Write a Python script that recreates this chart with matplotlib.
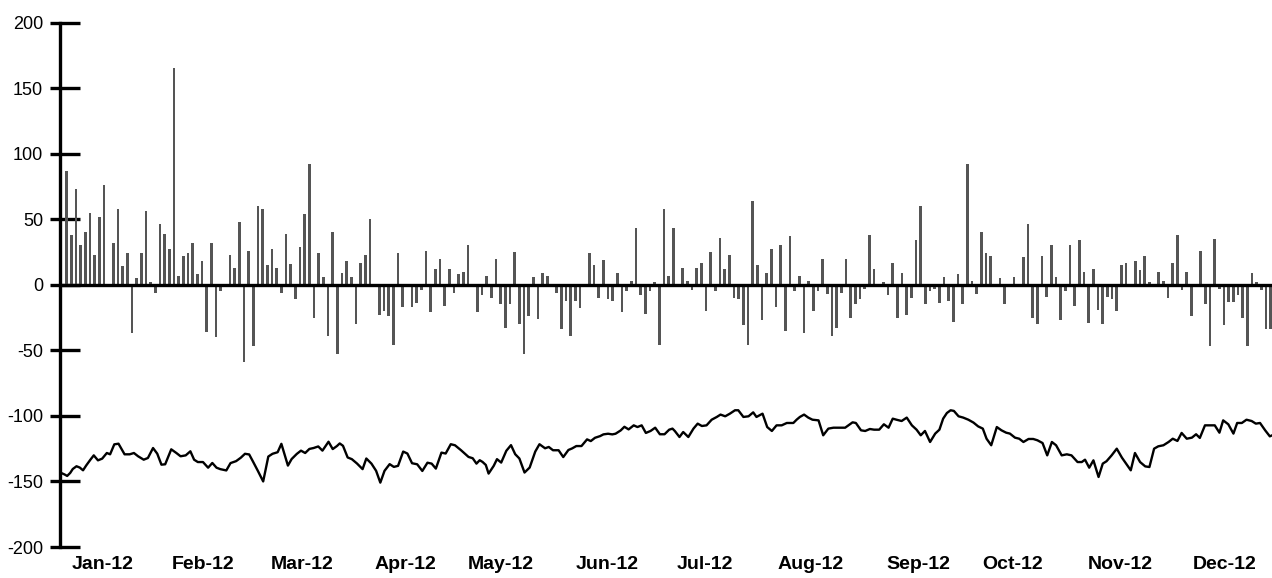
import matplotlib
matplotlib.use('Agg')
import matplotlib.pyplot as plt
from matplotlib.ticker import FixedLocator

plt.rcParams['font.family'] = ['Liberation Sans', 'DejaVu Sans']
plt.rcParams['axes.unicode_minus'] = False

# Daily bar values (one per trading day, index 0..258)
bar_values = [
    87, 38, 73, 30, 40, 55, 23, 52, 76, 0,
    32, 58, 14, 24, -37, 5, 24, 56, 2, -6,
    46, 39, 27, 165, 7, 22, 24, 32, 8, 18,
    -36, 32, -40, -5, 0, 23, 13, 48, -59, 26,
    -47, 60, 58, 15, 27, 13, -6, 39, 16, -11,
    29, 54, 92, -25, 24, 6, -39, 40, -53, 9,
    18, 6, -30, 17, 23, 50, 0, -23, -20, -24,
    -46, 24, -17, 0, -17, -14, -4, 26, -21, 12,
    20, -16, 12, -6, 8, 10, 30, 0, -21, -8,
    7, -10, 20, -15, -33, -15, 25, -30, -53, -24,
    6, -26, 9, 7, 0, -6, -34, -12, -39, -12,
    -18, -2, 24, 15, -10, 19, -11, -12, 9, -21,
    -5, 3, 43, -8, -22, -5, 2, -46, 58, 7,
    43, 0, 13, 3, -4, 13, 17, -20, 25, -5,
    36, 12, 23, -10, -11, -31, -46, 64, 15, -27,
    9, 27, -17, 30, -35, 37, -5, 7, -37, 3,
    -20, -5, 20, -7, -39, -33, -6, 20, -25, -15,
    -11, -3, 38, 12, 0, 2, -8, 17, -25, 9,
    -23, -10, 34, 60, -15, -5, -3, -14, 6, -12,
    -28, 8, -15, 92, 3, -7, 40, 24, 22, 0,
    5, -15, 0, 6, -2, 21, 46, -25, -30, 22,
    -9, 30, 6, -27, -5, 30, -16, 34, 10, -29,
    12, -19, -30, -9, -11, -20, 15, 17, 0, 18,
    11, 22, 2, 0, 10, 3, -10, 17, 38, -4,
    10, -24, 0, 26, -15, -47, 35, -3, -31, -13,
    -13, -8, -25, -47, 9, 2, -4, -34, -34,
]

# Line series: position (trading-day index) and value
line_x = [
    -1.2, -0.5, 0.1, 0.75, 1.3, 2.1, 2.8, 3.5, 4.2, 5.1,
    5.8, 6.7, 7.6, 8.6, 9.3, 10.2, 11.1, 12.4, 13.5, 14.4,
    15.3, 16.5, 17.4, 18.5, 19.4, 20.3, 21.1, 22.4, 23.5, 24.4,
    25.5, 26.5, 27.3, 28.1, 29.2, 30.3, 31.2, 32.1, 32.9, 34.2,
    35.1, 36.3, 37.3, 38.2, 39.1, 39.9, 41.0, 42.1, 43.2, 44.1,
    45.2, 46.0, 47.4, 48.2, 49.3, 50.2, 51.1, 52.0, 52.9, 53.9,
    54.8, 56.1, 57.0, 57.9, 58.5, 59.2, 60.2, 61.1, 62.2, 63.4,
    64.2, 65.3, 66.3, 67.2, 68.1, 69.2, 70.1, 71.0, 72.1, 73.0,
    74.0, 75.1, 76.2, 77.3, 78.2, 79.1, 80.3, 81.2, 82.3, 83.2,
    84.5, 86.1, 87.0, 87.8, 88.5, 89.1, 89.8, 90.4, 91.5, 92.2,
    93.1, 94.2, 95.2, 96.1, 97.0, 98.1, 99.2, 100.4, 101.3, 102.5,
    103.3, 104.2, 105.4, 106.4, 107.5, 108.3, 109.2, 110.3, 111.5, 112.3,
    113.2, 114.3, 115.0, 116.0, 116.9, 117.6, 118.7, 119.5, 120.4, 121.5,
    122.3, 123.2, 124.1, 125.1, 126.1, 127.1, 128.1, 129.1, 129.8, 130.3,
    131.3, 132.1, 133.2, 134.3, 135.2, 136.1, 137.1, 138.2, 139.3, 140.1,
    141.1, 142.1, 143.2, 143.9, 145.0, 146.1, 147.1, 147.8, 149.1, 150.1,
    151.1, 152.1, 153.2, 154.3, 155.7, 156.4, 157.1, 158.0, 158.9, 159.8,
    161.1, 162.1, 163.2, 164.3, 165.3, 166.8, 167.5, 168.4, 169.1, 170.2,
    171.1, 172.1, 173.0, 174.1, 175.1, 176.1, 177.0, 177.8, 178.9, 180.0,
    181.1, 182.1, 183.0, 183.9, 185.0, 186.1, 187.0, 187.8, 188.6, 189.4,
    190.1, 191.1, 192.1, 193.2, 194.3, 195.3, 196.3, 197.1, 198.1, 199.3,
    200.3, 201.3, 202.1, 203.2, 204.1, 205.0, 206.1, 207.1, 208.0, 209.1,
    210.1, 211.1, 212.0, 213.2, 214.3, 215.3, 216.6, 217.5, 218.2, 219.1,
    220.0, 221.1, 222.0, 222.8, 223.9, 225.0, 226.1, 227.0, 228.0, 228.9,
    230.0, 231.1, 232.0, 233.0, 233.9, 235.0, 236.1, 237.0, 238.0, 238.9,
    240.0, 241.1, 242.0, 242.8, 243.9, 245.0, 246.0, 247.0, 247.8, 248.9,
    250.0, 250.8, 251.8, 252.8, 253.9, 254.8, 255.7, 256.8, 257.8, 258.3,
]
line_y = [
    -143.5, -144.6, -145.8, -143.5, -140.5, -138.4, -139.4, -141.5, -137.7, -133.3,
    -130.1, -133.9, -132.6, -128.3, -129.3, -121.7, -121.2, -129.3, -129.3, -128.3,
    -130.8, -133.4, -132.1, -124.5, -128.8, -137.2, -136.9, -125.5, -128.3, -130.8,
    -130.1, -127.0, -133.4, -135.2, -135.2, -139.5, -135.9, -139.5, -140.6, -141.6,
    -136.0, -134.5, -131.9, -128.9, -129.4, -134.7, -142.2, -150.0, -131.0, -128.9,
    -127.7, -121.3, -137.9, -132.9, -129.0, -126.5, -128.3, -125.2, -124.5, -123.3,
    -126.5, -119.7, -125.3, -123.0, -121.0, -122.8, -131.7, -133.0, -136.3, -140.6,
    -132.5, -136.4, -141.9, -150.9, -141.9, -136.8, -138.9, -138.1, -127.2, -128.7,
    -136.1, -136.9, -142.0, -135.7, -136.4, -140.2, -128.0, -128.7, -121.6, -122.4,
    -126.2, -131.3, -132.3, -136.4, -133.8, -135.1, -137.4, -144.0, -138.1, -133.0,
    -135.6, -126.6, -122.3, -129.2, -132.5, -143.2, -139.4, -127.2, -121.6, -124.7,
    -123.7, -126.2, -126.2, -131.4, -126.0, -124.8, -123.0, -123.0, -117.9, -119.2,
    -116.7, -115.4, -114.1, -113.6, -114.1, -113.6, -111.1, -108.3, -110.3, -107.2,
    -108.5, -107.2, -113.0, -111.5, -109.0, -114.0, -114.0, -110.5, -109.7, -111.5,
    -116.1, -112.3, -116.1, -109.7, -105.9, -107.7, -107.2, -102.9, -100.8, -99.0,
    -100.3, -98.3, -95.7, -95.7, -100.8, -100.3, -97.3, -100.8, -98.3, -108.5,
    -111.5, -107.2, -107.2, -105.4, -105.4, -102.9, -100.8, -99.0, -101.3, -102.9,
    -103.4, -114.8, -109.7, -109.0, -109.0, -109.0, -107.2, -104.9, -105.4, -111.0,
    -111.5, -110.0, -110.5, -110.5, -106.4, -109.0, -102.1, -102.9, -103.9, -101.3,
    -107.2, -110.5, -114.8, -111.5, -119.9, -113.5, -110.5, -102.1, -97.8, -95.7,
    -96.2, -100.3, -101.3, -102.9, -105.1, -108.0, -109.7, -117.4, -122.4, -108.5,
    -111.0, -112.8, -113.5, -116.6, -117.4, -119.9, -117.6, -117.6, -118.6, -120.7,
    -130.1, -119.9, -122.4, -130.1, -129.3, -130.1, -135.2, -135.2, -133.4, -139.5,
    -133.9, -146.6, -136.4, -134.6, -130.1, -125.0, -131.8, -136.4, -141.5, -128.3,
    -135.2, -138.5, -139.0, -125.0, -123.2, -122.4, -119.9, -117.4, -119.1, -113.0,
    -117.4, -116.6, -114.0, -116.8, -107.2, -107.2, -107.2, -112.8, -103.4, -106.4,
    -113.5, -105.4, -105.4, -102.9, -103.9, -105.9, -105.4, -111.0, -115.6, -114.8,
]

month_labels = ['Jan-12', 'Feb-12', 'Mar-12', 'Apr-12', 'May-12', 'Jun-12',
                'Jul-12', 'Aug-12', 'Sep-12', 'Oct-12', 'Nov-12', 'Dec-12']
month_pos = [7.8, 29.2, 50.4, 72.5, 93.1, 115.8, 136.8, 159.5, 182.4, 202.6, 225.7, 248.2]
y_ticks = [-200, -150, -100, -50, 0, 50, 100, 150, 200]

fig = plt.figure(figsize=(12.72, 5.78), dpi=100)
ax = fig.add_axes([60 / 1272, 31 / 578, 1211.7 / 1272, 524.4 / 578])

ax.bar(range(len(bar_values)), bar_values, width=0.6, color='#555555', zorder=2)
ax.axhline(0, color='black', lw=2.4, zorder=3)
ax.plot(line_x, line_y, color='black', lw=1.7, zorder=4)

ax.set_xlim(-1.436, 258.2)
ax.set_ylim(-200, 200)
for s in ['top', 'right', 'bottom']:
    ax.spines[s].set_visible(False)
ax.spines['left'].set_linewidth(2.4)

ax.set_yticks(y_ticks)
ax.yaxis.set_minor_locator(FixedLocator(y_ticks))
ax.yaxis.remove_overlapping_locs = False
ax.tick_params(axis='y', which='major', direction='out', length=7.2, width=2.4,
               pad=5, labelsize=13)
ax.tick_params(axis='y', which='minor', direction='in', length=14.4, width=2.4)

ax.set_xticks(month_pos)
ax.set_xticklabels(month_labels, fontweight='bold', fontsize=14)
ax.tick_params(axis='x', length=0, pad=6.5)

fig.savefig('out.png', dpi=100)
